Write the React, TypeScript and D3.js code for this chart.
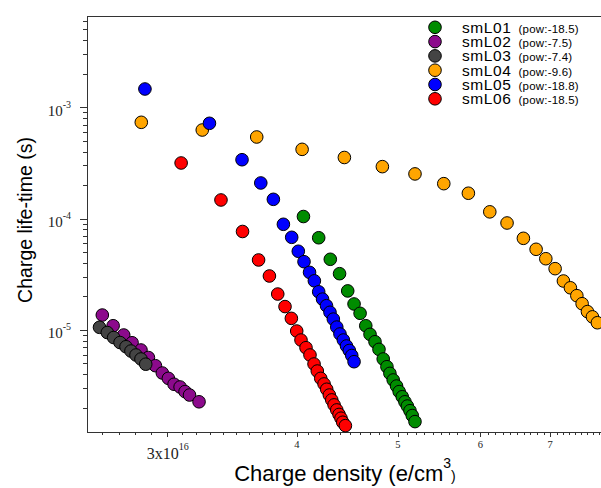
import React from "react";
import * as d3 from "d3";

const W = 601;
const H = 488;
const plot = { left: 87, right: 601, top: 16, bottom: 432 };

// charge density in units of 1e16 e/cm^3, life-time in seconds
const smL01Density = [4.058, 4.197, 4.306, 4.395, 4.475, 4.538, 4.599, 4.657, 4.701, 4.753, 4.795, 4.84, 4.88, 4.912, 4.948, 4.985, 5.014, 5.048, 5.078, 5.105, 5.135, 5.161, 5.192];
const smL01Life = [1.044e-4, 6.73e-5, 4.31e-5, 3.2e-5, 2.24e-5, 1.71e-5, 1.41e-5, 1.09e-5, 9.13e-6, 7.83e-6, 6.69e-6, 5.48e-6, 4.67e-6, 4.07e-6, 3.55e-6, 3.13e-6, 2.79e-6, 2.51e-6, 2.26e-6, 2.07e-6, 1.88e-6, 1.7e-6, 1.5e-6];

const smL02Density = [2.602, 2.665, 2.728, 2.779, 2.834, 2.881, 2.926, 2.971, 3.011, 3.049, 3.09, 3.124, 3.155, 3.222];
const smL02Life = [1.36e-5, 1.09e-5, 9.0e-6, 7.67e-6, 6.6e-6, 5.65e-6, 4.77e-6, 4.1e-6, 3.67e-6, 3.25e-6, 3.07e-6, 2.79e-6, 2.6e-6, 2.26e-6];

const smL03Density = [2.586, 2.631, 2.668, 2.706, 2.742, 2.772, 2.803, 2.834, 2.864];
const smL03Life = [1.055e-5, 9.47e-6, 8.54e-6, 7.7e-6, 7.06e-6, 6.46e-6, 5.95e-6, 5.48e-6, 4.92e-6];

const smL04Density = [2.836, 3.245, 3.66, 4.046, 4.442, 4.831, 5.192, 5.533, 5.842, 6.125, 6.363, 6.597, 6.785, 6.932, 7.076, 7.207, 7.319, 7.424, 7.511, 7.6, 7.684, 7.769];
const smL04Life = [7.33e-4, 6.25e-4, 5.41e-4, 4.19e-4, 3.54e-4, 2.93e-4, 2.52e-4, 2.06e-4, 1.69e-4, 1.15e-4, 9.13e-5, 6.65e-5, 5.3e-5, 4.36e-5, 3.55e-5, 2.75e-5, 2.39e-5, 2.03e-5, 1.72e-5, 1.46e-5, 1.31e-5, 1.16e-5];

const smL05Density = [2.859, 3.297, 3.543, 3.693, 3.797, 3.882, 3.954, 4.012, 4.063, 4.113, 4.157, 4.197, 4.233, 4.27, 4.303, 4.335, 4.368, 4.399, 4.432, 4.463, 4.491, 4.515, 4.538];
const smL05Life = [1.46e-3, 7.18e-4, 3.38e-4, 2.09e-4, 1.49e-4, 8.89e-5, 6.79e-5, 5.09e-5, 4.1e-5, 3.29e-5, 2.76e-5, 2.2e-5, 1.89e-5, 1.65e-5, 1.44e-5, 1.25e-5, 1.06e-5, 9.19e-6, 8.11e-6, 7.17e-6, 6.53e-6, 5.89e-6, 5.18e-6];

const smL06Density = [3.097, 3.382, 3.547, 3.675, 3.764, 3.834, 3.896, 3.951, 3.998, 4.036, 4.081, 4.117, 4.154, 4.184, 4.216, 4.247, 4.272, 4.297, 4.32, 4.342, 4.368, 4.39, 4.409, 4.426, 4.452];
const smL06Life = [3.16e-4, 1.47e-4, 7.66e-5, 4.25e-5, 3.05e-5, 2.1e-5, 1.62e-5, 1.27e-5, 9.77e-6, 8.11e-6, 6.92e-6, 5.95e-6, 4.94e-6, 4.27e-6, 3.67e-6, 3.27e-6, 2.93e-6, 2.6e-6, 2.35e-6, 2.12e-6, 1.91e-6, 1.74e-6, 1.61e-6, 1.48e-6, 1.38e-6];

const seriesNames = ["smL01", "smL02", "smL03", "smL04", "smL05", "smL06"];
const seriesPow = ["-18.5", "-7.5", "-7.4", "-9.6", "-18.8", "-18.5"];
const seriesColors = ["#008c00", "#8c0a8c", "#444444", "#ffa500", "#0000ff", "#ff0000"];
const seriesX = [smL01Density, smL02Density, smL03Density, smL04Density, smL05Density, smL06Density];
const seriesY = [smL01Life, smL02Life, smL03Life, smL04Life, smL05Life, smL06Life];

const xMajor = [3, 4, 5, 6, 7];
const yMajorExp = [-5, -4, -3];

const sans = "'Liberation Sans', Arial, Helvetica, sans-serif";
const serif = "'Liberation Serif', 'Times New Roman', serif";

export default function App() {
  const x = d3.scaleLog().domain([2.5155, 7.831]).range([plot.left, plot.right]);
  const y = d3.scaleLog().domain([6.61e-3, 1.21e-6]).range([plot.top, plot.bottom]);

  // minor ticks every 0.1 on x
  const xMinor = d3.range(26, 79).map((d) => d / 10).filter((d) => d >= 2.52 && d <= 7.83);
  // minor ticks 2..9 per decade on y
  const yMinor: number[] = [];
  for (let e = -6; e <= -3; e++) {
    for (let m = 1; m <= 9; m++) {
      const v = m * Math.pow(10, e);
      if (v >= 1.21e-6 && v <= 6.61e-3) yMinor.push(v);
    }
  }

  const r = 6.3;

  return (
    <svg width={W} height={H} style={{ position: "absolute", left: 0, top: 0, background: "#fff" }}>
      <rect width={W} height={H} fill="#fff" />
      {/* frame */}
      <g stroke="#333" strokeWidth={1} fill="none">
        <line x1={plot.left} x2={plot.right} y1={plot.top + 0.5} y2={plot.top + 0.5} />
        <line x1={plot.left + 0.5} x2={plot.left + 0.5} y1={plot.top} y2={plot.bottom} />
        <line x1={plot.left} x2={plot.right} y1={plot.bottom + 0.5} y2={plot.bottom + 0.5} />
      </g>

      {/* y ticks */}
      <g stroke="#333" strokeWidth={1}>
        {yMinor.map((v, i) => {
          const major = Math.abs(Math.log10(v) - Math.round(Math.log10(v))) < 1e-9;
          const yy = Math.round(y(v)) + 0.5;
          return <line key={i} x1={plot.left - (major ? 7 : 4)} x2={plot.left} y1={yy} y2={yy} />;
        })}
      </g>
      {yMajorExp.map((e) => (
        <text key={e} x={71} y={y(Math.pow(10, e)) + 8.5} textAnchor="end" fontFamily={serif} fontSize={15} fill="#222">
          10
          <tspan fontSize={10} dy={-8}>{e}</tspan>
        </text>
      ))}

      {/* x ticks */}
      <g stroke="#333" strokeWidth={1}>
        {xMinor.map((v, i) => {
          const major = Math.abs(v - Math.round(v)) < 1e-9;
          const xx = Math.round(x(v)) + 0.5;
          return <line key={i} x1={xx} x2={xx} y1={plot.bottom} y2={plot.bottom + (major ? 5 : 3)} />;
        })}
      </g>
      {xMajor.map((v) =>
        v === 3 ? (
          <text key={v} x={x(v) + 1} y={459} textAnchor="middle" fontFamily={serif} fontSize={16} fill="#222">
            3x10
            <tspan fontSize={10} dy={-9}>16</tspan>
          </text>
        ) : (
          <text key={v} x={x(v)} y={448} textAnchor="middle" fontFamily={serif} fontSize={10.5} fill="#222">
            {v}
          </text>
        )
      )}

      {/* axis titles */}
      <text x={345} y={481} textAnchor="middle" fontFamily={sans} fontSize={22} fill="#000">
        Charge density (e/cm
        <tspan fontSize={14} dy={-13}>3</tspan>
        <tspan fontSize={14} dy={13}>)</tspan>
      </text>
      <text transform={`translate(32, 220) rotate(-90)`} textAnchor="middle" fontFamily={sans} fontSize={19.5} fill="#000">
        Charge life-time (s)
      </text>

      {/* data */}
      {seriesNames.map((name, si) => (
        <g key={name}>
          {seriesX[si].map((xv, i) => (
            <circle
              key={i}
              cx={x(xv)}
              cy={y(seriesY[si][i])}
              r={r}
              fill={seriesColors[si]}
              stroke="#000"
              strokeWidth={1}
            />
          ))}
        </g>
      ))}

      {/* legend */}
      {seriesNames.map((name, i) => {
        const cy = 27.3 + i * 14.3;
        return (
          <g key={name}>
            <circle cx={435} cy={cy} r={r} fill={seriesColors[i]} stroke="#000" strokeWidth={1} />
            <text x={462} y={cy + 5.5} fontFamily={sans} fontSize={15.5} letterSpacing={0.6} fill="#000">
              {name}
              <tspan fontSize={11.5} dx={7} letterSpacing={0.2}>{`(pow:${seriesPow[i]})`}</tspan>
            </text>
          </g>
        );
      })}
    </svg>
  );
}
